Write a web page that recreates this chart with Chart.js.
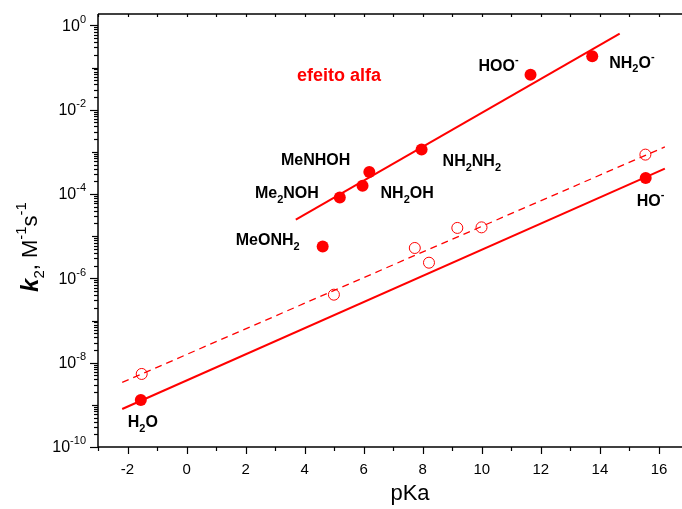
<!DOCTYPE html>
<html>
<head>
<meta charset="utf-8">
<script src="https://cdn.jsdelivr.net/npm/chart.js@4.4.1/dist/chart.umd.min.js"></script>
<style>
    html, body { margin: 0; padding: 0; background: #ffffff; }
</style>
</head>
<body>
<canvas id="kChart" width="682" height="509"></canvas>
<script>
// ===========================
// Data
// ===========================

// filled circles: pKa / k2
const filledPKa = [-1.55, 4.61, 5.19, 5.96, 6.19, 7.96, 11.65, 13.74, 15.55];
const filledK = [1.3e-9, 5.7e-6, 8.3e-5, 1.58e-4, 3.33e-4, 1.13e-3, 0.0677, 0.184, 2.4e-4];
const filledNames = ['H_{2}O', 'MeONH_{2}', 'Me_{2}NOH', 'NH_{2}OH', 'MeNHOH', 'NH_{2}NH_{2}', 'HOO^{-}', 'NH_{2}O^{-}', 'HO^{-}'];

// open circles
const openPKa = [-1.52, 4.99, 7.73, 8.21, 9.17, 9.99, 15.54];
const openK = [5.4e-9, 4.1e-7, 5.25e-6, 2.35e-6, 1.57e-5, 1.62e-5, 8.6e-4];

// fitted lines (end points)
const alphaFitPKa = [3.70, 14.67];
const alphaFitK = [2.46e-5, 0.635];
const normalFitPKa = [-2.18, 16.2];
const normalFitK = [7.96e-10, 3.99e-4];
const openFitPKa = [-2.18, 16.2];
const openFitK = [3.4e-9, 1.31e-3];

// axis ticks
const xTickValues = [-2, 0, 2, 4, 6, 8, 10, 12, 14, 16];
const yTickExponents = [0, -2, -4, -6, -8, -10];

// ===========================
// Layout / style
// ===========================
const RED = '#ff0000';
const FONT = '"Liberation Sans", Arial, sans-serif';

// label placement relative to its point: [dx, dy, align]
const labelOffsets = [
    [-13, 23, 'left'],
    [-23, -6, 'right'],
    [-21, -4, 'right'],
    [18, 8, 'left'],
    [-19, -11, 'right'],
    [21, 12, 'left'],
    [-52, -8, 'left'],
    [17, 7, 'left'],
    [-9, 24, 'left']
];
const alphaNote = { text: 'efeito alfa', x: 3.74, y: 0.064 };

function toXY(xs, ys) {
    return xs.map((v, i) => ({ x: v, y: ys[i] }));
}

// split "NH_{2}O^{-}" into normal / sub / sup pieces
function parseRich(str) {
    const parts = [];
    const re = /([_^])\{([^}]*)\}|([^_^]+)/g;
    let m;
    while ((m = re.exec(str)) !== null) {
        if (m[3]) parts.push({ t: m[3], k: 'n' });
        else parts.push({ t: m[2], k: m[1] === '_' ? 'sub' : 'sup' });
    }
    return parts;
}

function drawRich(ctx, parts, x, y, align, size, weight) {
    const small = Math.round(size * 0.68);
    const fontOf = p => (p.style || weight) + ' ' + (p.k === 'n' ? (p.size || size) : small) + 'px ' + FONT;
    let total = 0;
    parts.forEach(p => {
        ctx.font = fontOf(p);
        p.w = ctx.measureText(p.t).width;
        total += p.w;
    });
    let cx = align === 'right' ? x - total : (align === 'center' ? x - total / 2 : x);
    ctx.textAlign = 'left';
    ctx.textBaseline = 'middle';
    parts.forEach(p => {
        ctx.font = fontOf(p);
        let dy = 0;
        if (p.k === 'sub') dy = size * 0.38;
        if (p.k === 'sup') dy = -size * 0.42;
        ctx.fillText(p.t, cx, y + dy);
        cx += p.w;
    });
}

// frame, ticks and all text
const decorPlugin = {
    id: 'decor',
    afterDraw(chart) {
        const { ctx, chartArea: a, scales: { x, y } } = chart;
        ctx.save();
        ctx.strokeStyle = '#000';
        ctx.lineWidth = 1.5;

        const seg = (x1, y1, x2, y2) => {
            ctx.beginPath();
            ctx.moveTo(x1, y1);
            ctx.lineTo(x2, y2);
            ctx.stroke();
        };

        // frame (right side is cut off in the original)
        seg(a.left, a.top, a.right, a.top);
        seg(a.left, a.top, a.left, a.bottom);
        seg(a.left, a.bottom, a.right, a.bottom);

        // x ticks
        ctx.lineWidth = 1.2;
        for (let v = -3; v <= 17; v++) {
            const px = Math.round(x.getPixelForValue(v)) + 0.5;
            if (px < a.left - 1 || px > a.right) continue;
            const len = v % 2 === 0 ? 7 : 4;
            seg(px, a.bottom, px, a.bottom + len);
            seg(px, a.top, px, a.top + 3);
        }

        // y ticks (log)
        for (let d = -10; d <= 0; d++) {
            for (let m = 1; m <= 9; m++) {
                const val = m * Math.pow(10, d);
                if (val > y.max) break;
                const py = Math.round(y.getPixelForValue(val)) + 0.5;
                const len = m === 1 ? (d % 2 === 0 ? 8 : 6) : 4;
                seg(a.left - len, py, a.left, py);
            }
        }

        ctx.fillStyle = '#000';
        // x tick labels
        ctx.font = '15px ' + FONT;
        ctx.textAlign = 'center';
        ctx.textBaseline = 'middle';
        xTickValues.forEach(v => {
            ctx.fillText(String(v), x.getPixelForValue(v), a.bottom + 23);
        });

        // y tick labels 10^n
        yTickExponents.forEach(e => {
            const py = y.getPixelForValue(Math.pow(10, e));
            drawRich(ctx, [{ t: '10', k: 'n' }, { t: String(e), k: 'sup' }], 86, py + 1, 'right', 16, 'normal');
        });

        // axis titles
        ctx.font = '22px ' + FONT;
        ctx.textAlign = 'center';
        ctx.fillText('pKa', 410, 494);

        ctx.save();
        ctx.translate(31, 247);
        ctx.rotate(-Math.PI / 2);
        drawRich(ctx, [
            { t: 'k', k: 'n', style: 'italic bold', size: 24 },
            { t: '2', k: 'sub' },
            { t: ', M', k: 'n' },
            { t: '-1', k: 'sup' },
            { t: 's', k: 'n' },
            { t: '-1', k: 'sup' }
        ], 0, 0, 'center', 22, 'normal');
        ctx.restore();

        // point labels
        const meta = chart.getDatasetMeta(3);
        meta.data.forEach((pt, i) => {
            const [dx, dy, align] = labelOffsets[i];
            drawRich(ctx, parseRich(filledNames[i]), pt.x + dx, pt.y + dy, align, 16, 'bold');
        });

        // note
        ctx.fillStyle = RED;
        drawRich(ctx, [{ t: alphaNote.text, k: 'n' }], x.getPixelForValue(alphaNote.x),
            y.getPixelForValue(alphaNote.y), 'left', 18, 'bold');

        ctx.restore();
    }
};

const ctx = document.getElementById('kChart');

new Chart(ctx, {
    type: 'scatter',
    data: {
        datasets: [{
            label: 'ajuste alfa',
            data: toXY(alphaFitPKa, alphaFitK),
            showLine: true,
            borderColor: RED,
            borderWidth: 2,
            pointRadius: 0
        }, {
            label: 'ajuste normal',
            data: toXY(normalFitPKa, normalFitK),
            showLine: true,
            borderColor: RED,
            borderWidth: 2,
            pointRadius: 0
        }, {
            label: 'ajuste aberto',
            data: toXY(openFitPKa, openFitK),
            showLine: true,
            borderColor: RED,
            borderWidth: 1.3,
            borderDash: [7, 5],
            pointRadius: 0
        }, {
            label: 'nucleófilos',
            data: toXY(filledPKa, filledK),
            pointRadius: 6,
            pointBackgroundColor: RED,
            pointBorderColor: RED,
            pointBorderWidth: 0
        }, {
            label: 'abertos',
            data: toXY(openPKa, openK),
            pointRadius: 5.5,
            pointBackgroundColor: 'rgba(0,0,0,0)',
            pointBorderColor: RED,
            pointBorderWidth: 1
        }]
    },
    options: {
        responsive: false,
        animation: false,
        layout: {
            autoPadding: false,
            padding: { top: 14, left: 0, right: 0, bottom: 0 }
        },
        plugins: {
            legend: { display: false },
            tooltip: { enabled: false }
        },
        scales: {
            x: {
                type: 'linear',
                min: -3,
                max: 16.78,
                ticks: { display: false },
                grid: { display: false },
                border: { display: false },
                afterFit: s => { s.height = 62; }
            },
            y: {
                type: 'logarithmic',
                min: 1e-10,
                max: 1.86,
                ticks: { display: false },
                grid: { display: false },
                border: { display: false },
                afterFit: s => { s.width = 98; }
            }
        }
    },
    plugins: [decorPlugin]
});
</script>
</body>
</html>
